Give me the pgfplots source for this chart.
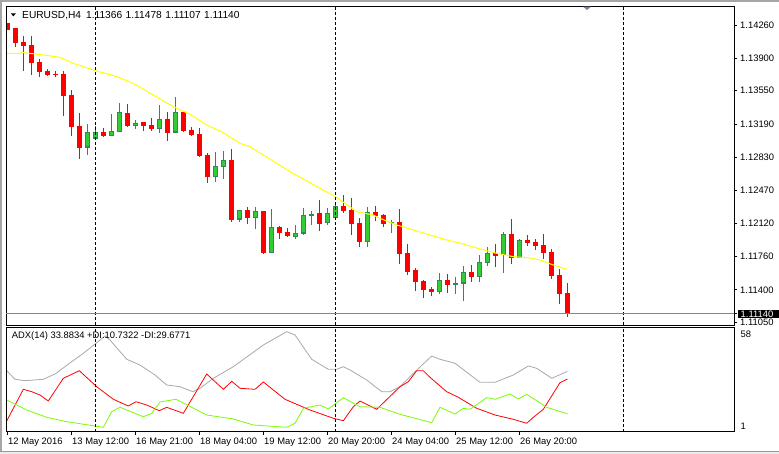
\documentclass[border=0pt]{standalone}
\usepackage{fontspec}
\setmainfont{Liberation Sans}
\usepackage{pgfplots}
\pgfplotsset{compat=1.18}
\usepackage{pgfplotstable}

\definecolor{bullfill}{RGB}{50,205,50}
\definecolor{bulledge}{RGB}{46,139,87}
\definecolor{bear}{RGB}{255,0,0}
\definecolor{maline}{RGB}{255,255,0}
\definecolor{adxgrey}{RGB}{169,169,169}
\definecolor{pdi}{RGB}{124,252,0}
\definecolor{slate}{RGB}{119,136,153}
\newcommand\mtfont{\fontsize{9.4}{11}\selectfont}

% k open high low close
\pgfplotstableread{
k O H L C
0 1.14285 1.14285 1.14214 1.14214
1 1.14228 1.14228 1.14026 1.14069
2 1.14076 1.14141 1.13766 1.14041
3 1.14044 1.14141 1.13717 1.13853
4 1.13860 1.13890 1.13695 1.13752
5 1.13766 1.13788 1.13709 1.13720
6 1.13734 1.13763 1.13702 1.13728
7 1.13731 1.13760 1.13277 1.13493
8 1.13504 1.13558 1.13061 1.13162
9 1.13169 1.13313 1.12813 1.12935
12 1.13104 1.13148 1.13047 1.13061
15 1.13310 1.13407 1.13162 1.13169
17 1.13212 1.13212 1.13118 1.13172
18 1.13180 1.13256 1.13118 1.13140
20 1.13245 1.13320 1.13010 1.13097
22 1.13320 1.13320 1.13104 1.13115
23 1.13126 1.13155 1.13061 1.13072
24 1.13083 1.13144 1.12834 1.12845
25 1.12856 1.12881 1.12557 1.12622
28 1.12802 1.12921 1.12136 1.12154
30 1.12262 1.12294 1.12114 1.12179
32 1.12251 1.12251 1.11787 1.11798
34 1.12078 1.12092 1.11949 1.12017
35 1.12024 1.12068 1.11967 1.11984
39 1.12230 1.12370 1.12038 1.12114
42 1.12305 1.12424 1.12230 1.12254
43 1.12262 1.12392 1.11992 1.12114
44 1.12122 1.12176 1.11866 1.11920
46 1.12240 1.12305 1.12146 1.12205
47 1.12205 1.12219 1.12082 1.12114
49 1.12132 1.12273 1.11682 1.11790
50 1.11798 1.11895 1.11563 1.11596
51 1.11614 1.11636 1.11390 1.11488
52 1.11495 1.11506 1.11315 1.11401
53 1.11409 1.11434 1.11336 1.11376
55 1.11506 1.11568 1.11369 1.11455
58 1.11592 1.11668 1.11488 1.11542
61 1.11798 1.11895 1.11650 1.11765
63 1.12003 1.12165 1.11682 1.11747
65 1.11941 1.11992 1.11876 1.11906
66 1.11913 1.11949 1.11830 1.11873
67 1.11884 1.12003 1.11733 1.11798
68 1.11808 1.11838 1.11520 1.11549
69 1.11560 1.11625 1.11250 1.11358
70 1.11366 1.11478 1.11107 1.11140
}\bearbars

\pgfplotstableread{
k O H L C
10 1.12939 1.13191 1.12856 1.13101
11 1.13036 1.13170 1.13026 1.13101
13 1.13064 1.13299 1.13061 1.13112
14 1.13108 1.13414 1.13108 1.13317
16 1.13177 1.13234 1.13134 1.13202
19 1.13140 1.13393 1.13097 1.13245
21 1.13101 1.13482 1.13101 1.13320
26 1.12622 1.12888 1.12564 1.12737
27 1.12730 1.12902 1.12600 1.12802
29 1.12162 1.12259 1.12136 1.12259
31 1.12179 1.12294 1.12054 1.12251
33 1.11801 1.12273 1.11801 1.12078
36 1.11974 1.12100 1.11952 1.12010
37 1.12010 1.12284 1.11995 1.12208
38 1.12205 1.12251 1.12100 1.12219
40 1.12125 1.12284 1.12103 1.12230
41 1.12179 1.12334 1.12179 1.12302
45 1.11920 1.12294 1.11866 1.12237
48 1.12122 1.12154 1.12017 1.12136
54 1.11380 1.11582 1.11358 1.11503
56 1.11455 1.11538 1.11358 1.11474
57 1.11470 1.11657 1.11282 1.11589
59 1.11542 1.11776 1.11488 1.11697
60 1.11693 1.11862 1.11660 1.11794
62 1.11779 1.12024 1.11585 1.12000
64 1.11747 1.11952 1.11747 1.11938
}\bullbars

\begin{document}
\begin{tikzpicture}
\clip (0pt,0pt) rectangle (779pt,454pt);
% window frame
\fill[white] (0pt,0pt) rectangle (779pt,454pt);
\fill[black!35] (0pt,0pt) rectangle (2.3pt,454pt);
\fill[black!35] (0pt,451.5pt) rectangle (779pt,454pt);
\fill[black!8] (0pt,0pt) rectangle (779pt,2.3pt);
\draw[black!40,line width=0.8pt] (0pt,2.3pt) -- (779pt,2.3pt);

% price window
\begin{axis}[
  at={(6.5pt,129pt)}, anchor=south west, scale only axis,
  width=727.5pt, height=319pt,
  xmin=-0.125, xmax=90.8125, ymin=1.11020, ymax=1.14465,
  axis line style={black, line width=0.8pt},
  xtick=\empty,
  ytick={1.14260,1.13900,1.13550,1.13190,1.12830,1.12470,1.12120,1.11760,1.11400,1.11050},
  yticklabels={1.14260,1.13900,1.13550,1.13190,1.12830,1.12470,1.12120,1.11760,1.11400,1.11050},
  ytick pos=right, yticklabel pos=right,
  tick align=outside, major tick length=3pt,
  tick style={black, line width=0.8pt},
  yticklabel style={font=\mtfont, anchor=west, inner sep=1pt, xshift=2pt},
  extra x ticks={11,41,77}, extra x tick labels={,,},
  extra x tick style={grid=major, major tick length=0pt,
    major grid style={black, line width=0.8pt, dash pattern=on 3pt off 2pt}},
  extra y ticks={1.11140}, extra y tick labels={1.11140},
  extra y tick style={grid=major, major grid style={slate, line width=0.8pt},
    yticklabel style={fill=black, text=white, inner ysep=0.6pt, inner xsep=3pt,
      text width=40pt, align=left, xshift=-1.5pt}},
  axis on top,
]
% wicks
\addplot[draw=none, forget plot, error bars/.cd, y dir=both, y explicit, error mark=none,
  error bar style={draw=bear, line width=1pt}]
  table[x=k, y=C, y error plus expr={\thisrow{H}-\thisrow{C}}, y error minus expr={\thisrow{C}-\thisrow{L}}] {\bearbars};
\addplot[draw=none, forget plot, error bars/.cd, y dir=both, y explicit, error mark=none,
  error bar style={draw=bulledge, line width=1pt}]
  table[x=k, y=C, y error plus expr={\thisrow{H}-\thisrow{C}}, y error minus expr={\thisrow{C}-\thisrow{L}}] {\bullbars};
% bodies
\addplot[draw=none, forget plot, error bars/.cd, y dir=minus, y explicit, error mark=none,
  error bar style={draw=bear, line width=5pt}]
  table[x=k, y=O, y error minus expr={\thisrow{O}-\thisrow{C}+0.00005}] {\bearbars};
\addplot[draw=none, forget plot, error bars/.cd, y dir=minus, y explicit, error mark=none,
  error bar style={draw=bulledge, line width=5pt}]
  table[x=k, y=C, y error minus expr={\thisrow{C}-\thisrow{O}+0.00005}] {\bullbars};
\addplot[draw=none, forget plot, error bars/.cd, y dir=minus, y explicit, error mark=none,
  error bar style={draw=bullfill, line width=3pt}]
  table[x=k, y expr={\thisrow{C}-0.000108}, y error minus expr={max(\thisrow{C}-\thisrow{O}-0.000216,0)}] {\bullbars};
% moving average
\addplot[maline, line width=1pt] coordinates {
(-0.1,1.13954)(1.56,1.13954)(2,1.13961)(4.48,1.13936)(6.56,1.13911)(8.22,1.13846)
(11.15,1.13763)(13.65,1.13702)(15.72,1.13630)(18.22,1.13504)(20.72,1.13378)
(22.81,1.13296)(24.9,1.13180)(26.97,1.13097)(29.06,1.12982)(30.31,1.12946)
(31.97,1.12856)(33.65,1.12766)(35.31,1.12676)(37.4,1.12575)(39.47,1.12478)
(40.97,1.12406)(43.65,1.12244)(45.72,1.12208)(46.56,1.12172)(48.65,1.12100)
(50.72,1.12046)(52.81,1.11992)(54.9,1.11938)(56.97,1.11895)(59.06,1.11841)
(61.15,1.11794)(63.22,1.11758)(65.31,1.11744)(66.56,1.11722)(68.22,1.11668)
(69.9,1.11622)
};
\end{axis}

% ADX window
\begin{axis}[
  at={(6.5pt,22.3pt)}, anchor=south west, scale only axis,
  width=727.5pt, height=104.7pt,
  xmin=-0.125, xmax=90.8125, ymin=1, ymax=58,
  axis line style={black, line width=0.8pt},
  xtick={0,8,...,64},
  xticklabels={12 May 2016,13 May 12:00,16 May 21:00,18 May 04:00,19 May 12:00,20 May 20:00,24 May 04:00,25 May 12:00,26 May 20:00},
  xtick pos=left,
  xticklabel style={font=\mtfont, anchor=north west, inner sep=0pt, xshift=0.5pt, yshift=-2.5pt},
  ytick={4.1,54.0}, yticklabels={1,58},
  ytick pos=right, yticklabel pos=right,
  y tick style={draw=none},
  yticklabel style={font=\mtfont, anchor=west, inner sep=1pt, xshift=2pt},
  tick align=outside, major tick length=3.5pt,
  tick style={black, line width=0.8pt},
  extra x ticks={11,41,77}, extra x tick labels={,,},
  extra x tick style={grid=major, major tick length=0pt,
    major grid style={black, line width=0.8pt, dash pattern=on 3pt off 2pt}},
  axis on top,
]
\addplot[adxgrey, line width=0.8pt] coordinates {
(-0.1,34.21)(0.94,29.53)(2.19,28.77)(4.48,29.53)(5.94,32.41)(8.03,39.11)(9.48,43.68)
(11.15,49.45)(12.19,53.1)(12.81,50.92)(14.9,40.42)(16.56,37.31)(18.44,31.87)(19.9,26.42)
(21.56,25.5)(23.15,22.78)(24.06,24.63)(25.73,30.07)(28.23,36.39)(31.98,48.2)(34.9,55.44)
(35.94,53.64)(38.03,40.42)(40.1,34.97)(41.15,34.97)(41.98,36.39)(42.81,34.59)(44.9,29.15)
(46.78,22.78)(47.81,22.78)(49.06,25.5)(50.73,32.79)(53.03,42.21)(54.06,40.42)(55.94,38.24)
(59.06,27.9)(60.94,27.9)(63.23,31.87)(65.1,36.77)(66.15,35.52)(68.03,30.07)(70,33.88)
};
\addplot[bear, line width=0.8pt] coordinates {
(-0.1,6.83)(1.98,24.08)(3.03,22.78)(4.06,20.98)(5.1,17.71)(6.98,30.07)(8.98,34.21)
(11.15,25.5)(13.23,18.64)(15.1,14.99)(16.06,17.33)(17.4,15.54)(18.98,12.43)(19.9,14.28)
(21.98,11.01)(24.9,32.41)(26.98,24.08)(28.03,28.44)(29.06,24.63)(30.94,24.08)(31.98,28.06)
(34.69,18.64)(37.81,12.81)(40.73,8.3)(41.98,6.99)(43.23,14.61)(44.06,17.71)(46.15,13.2)
(49.06,25.5)(50.1,28.22)(51.15,34.21)(51.98,34.21)(52.81,30.62)(54.9,22.78)(56.35,19.73)
(58.65,13.74)(60.94,10.09)(63.23,7.75)(64.9,5.57)(65.73,8.84)(66.98,13.2)(69.06,27.68)
(70,29.68)
};
\addplot[pdi, line width=0.8pt] coordinates {
(-0.1,18.26)(2.4,12.81)(4.9,8.84)(7.4,6.45)(11.98,3.4)(13.03,11.89)(14.06,14.28)
(16.98,9.17)(18.03,11.02)(19.06,17.17)(21.06,18.64)(24.9,10.09)(28.23,7.92)(30.73,4.65)
(34.9,3.4)(35.94,5.57)(36.98,13.74)(39.06,15.54)(40.1,13.36)(41.98,19.51)(44.06,14.61)
(46.56,14.28)(49.06,10.47)(53.03,5.9)(54.06,14.28)(55.94,10.64)(56.98,13.74)(57.81,13.2)
(59.9,19.51)(60.94,18.64)(62.81,21.53)(63.85,18.8)(64.9,21.36)(67.4,14.28)(70,10.73)
};
\end{axis}

% window captions
\fill[black] (10.7pt,440.7pt) -- (16pt,440.7pt) -- (13.35pt,437.7pt) -- cycle;
\node[anchor=base west, inner sep=0pt, font=\fontsize{10.2}{12}\selectfont] at (22pt,435.7pt)
  {EURUSD,H4\hspace{5pt}1.11366\hspace{3.5pt}1.11478\hspace{3.5pt}1.11107\hspace{3.5pt}1.11140};
\node[anchor=base west, inner sep=0pt, font=\mtfont] at (11.7pt,115pt)
  {ADX(14) 33.8834 +DI:10.7322 -DI:29.6771};
\fill[slate] (583pt,447.3pt) -- (591pt,447.3pt) -- (587pt,444pt) -- cycle;
\end{tikzpicture}
\end{document}
